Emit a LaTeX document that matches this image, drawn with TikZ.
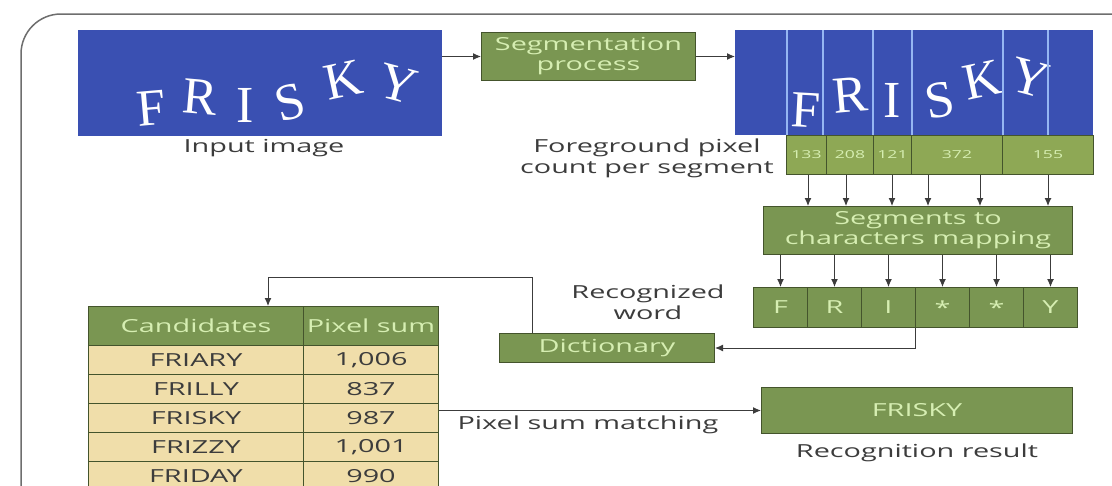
\documentclass[tikz,border=0pt]{standalone}
\usepackage{fontspec}
\setmainfont[FakeStretch=1.6]{Open Sans}
\newfontfamily\glyphfont{Liberation Serif}
\usetikzlibrary{arrows.meta,calc}
\definecolor{imgblue}{RGB}{58,80,178}
\definecolor{seamblue}{RGB}{150,182,242}
\definecolor{boxgreen}{RGB}{122,150,82}
\definecolor{cntgreen}{RGB}{142,168,85}
\definecolor{boxedge}{RGB}{68,84,44}
\definecolor{boxtext}{RGB}{214,238,178}
\definecolor{rowtan}{RGB}{240,222,170}
\definecolor{labelgray}{RGB}{60,60,60}
\definecolor{framegray}{RGB}{110,110,110}
\begin{document}
\begin{tikzpicture}[x=1pt,y=-1pt,
  box/.style={draw=boxedge,fill=boxgreen,text=boxtext,inner sep=0pt,line width=1pt,
    font=\fontsize{18}{20}\selectfont,align=center,anchor=north west},
  cnt/.style={box,fill=cntgreen,minimum height=39pt,font=\fontsize{11}{12}\selectfont},
  cell/.style={draw=boxedge,fill=rowtan,text=labelgray,inner sep=0pt,line width=1pt,
    minimum height=29pt,anchor=north west,font=\fontsize{18}{20}\selectfont},
  lbl/.style={text=labelgray,font=\fontsize{18}{21}\selectfont,align=center,inner sep=0pt},
  arr/.style={draw=labelgray,line width=1pt,-{Latex[length=8pt,width=7pt]}},
  glyph/.style={text=white,font=\glyphfont\fontsize{52}{52}\selectfont,inner sep=0pt},
  pic/.style={fill=imgblue,inner sep=0pt,anchor=north west}]
  \fill[white] (0,0) rectangle (1112,485);
  \useasboundingbox (0,0) rectangle (1112,485);
  \draw[framegray,line width=1.5pt,rounded corners=40pt] (21,500) -- (21,14) -- (1130,14);

  \node[pic,minimum width=364pt,minimum height=106pt] (inp) at (78,30) {};
  \node[glyph,rotate=5] (f1) at (151,108) {F};
  \node[glyph,rotate=-5] (r1) at (200,97) {R};
  \node[glyph] (i1) at (245,105) {I};
  \node[glyph,rotate=15] (s1) at (290,102) {S};
  \node[glyph,rotate=12] (k1) at (343,80) {K};
  \node[glyph,rotate=-15] (y1) at (398,84) {Y};
  \node[lbl] (inlbl) at (264,148) {Input image};

  \node[box,minimum width=214pt,minimum height=48pt] (seg) at (481,32) {Segmentation\\process};
  \draw[arr] (seg.west -| inp.east) -- (seg.west);

  \node[pic,minimum width=358pt,minimum height=105pt] (segimg) at (735,30) {};
  \draw[arr] (seg.east) -- (seg.east -| segimg.west);
  \node[glyph,rotate=-3] (f2) at (806,110) {F};
  \node[glyph,rotate=5] (r2) at (850,95) {R};
  \node[glyph] (i2) at (892,100) {I};
  \node[glyph,rotate=10] (s2) at (940,100) {S};
  \node[glyph,rotate=12] (k2) at (982,80) {K};
  \node[glyph,rotate=-15] (y2) at (1030,78) {Y};
  \foreach \x in {787,823,873,912,1003,1048}
    \draw[seamblue,line width=1.5pt] (\x,0 |- segimg.north) -- (\x,0 |- segimg.south);

  \foreach \a/\b/\v [count=\i] in {786/826/133,826/873/208,873/911/121,911/1002/372,1002/1093/155}
    \node[cnt,minimum width={\b-\a}] (cnt\i) at (\a,135) {\v};
  \node[lbl] (fglbl) at (647,158) {Foreground pixel\\count per segment};

  \node[box,minimum width=309pt,minimum height=48pt] (map) at (763,206) {Segments to\\characters mapping};
  \foreach \x in {808,846,892,928,980,1048}
    \draw[arr] (\x,0 |- cnt1.south) -- (\x,0 |- map.north);

  \foreach \c [count=\i] in {F,R,I,*,*,Y}
    \node[box,minimum width=54pt,minimum height=40pt] (let\i) at ({753+54*(\i-1)},287) {\c};
  \foreach \i in {1,...,6}
    \draw[arr] (let\i.north |- map.south) -- (let\i.north);
  \node[lbl] (rwlbl) at (648,302) {Recognized\\word};

  \node[box,minimum width=215pt,minimum height=29pt] (dict) at (499,333) {Dictionary};
  \draw[arr] (let4.south west) |- (dict.east);

  \node[box,minimum width=215pt,minimum height=39pt] (hc) at (88,306) {Candidates};
  \node[box,minimum width=135pt,minimum height=39pt] (hp) at (303,306) {Pixel sum};
  \foreach \w/\s [count=\i] in {FRIARY/{1,006},FRILLY/837,FRISKY/987,FRIZZY/{1,001},FRIDAY/990} {
    \node[cell,minimum width=215pt] (c\i) at (88,{345+29*(\i-1)}) {\w};
    \node[cell,minimum width=135pt] (p\i) at (303,{345+29*(\i-1)}) {\s};
  }
  \draw[arr] ($(dict.north west)+(33,0)$) -- ++(0,-56) -| ($(hc.north west)+(180,0)$);

  \node[box,minimum width=311pt,minimum height=46pt] (res) at (761,387) {FRISKY};
  \draw[arr] (p3.east |- res.west) -- (res.west);
  \node[lbl] (pslbl) at (588,425) {Pixel sum matching};
  \node[lbl] (rrlbl) at (917,453) {Recognition result};
\end{tikzpicture}
\end{document}
